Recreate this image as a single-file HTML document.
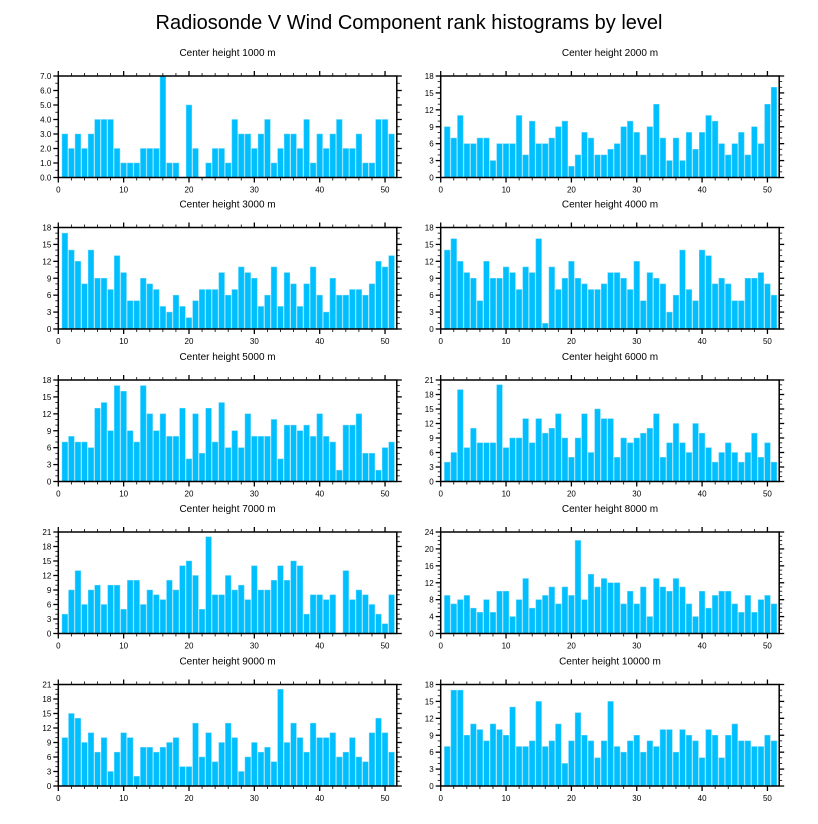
<!DOCTYPE html>
<html><head><meta charset="utf-8"><style>
body{margin:0;background:#fff;}
svg{display:block;font-family:"Liberation Sans",Arial,sans-serif;}
</style></head><body>
<svg id="chart" width="818" height="824" viewBox="0 0 818 824" xmlns="http://www.w3.org/2000/svg">
<text x="409" y="29" font-size="20" text-anchor="middle">Radiosonde V Wind Component rank histograms by level</text>
</svg>
<script>
const titles = ["Center height 1000 m","Center height 2000 m","Center height 3000 m","Center height 4000 m","Center height 5000 m","Center height 6000 m","Center height 7000 m","Center height 8000 m","Center height 9000 m","Center height 10000 m"];
const ymaxs = [7,18,18,18,18,21,21,24,21,18];
const ymajor = [1,3,3,3,3,3,3,4,3,3];
const yminor = [0.5,1,1,1,1,1,1,1,1,1];
const xTicks = [0,10,20,30,40,50];
const v1000 = [3,2,3,2,3,4,4,4,2,1,1,1,2,2,2,7,1,1,0,5,2,0,1,2,2,1,4,3,3,2,3,4,1,2,3,3,2,4,1,3,2,3,4,2,2,3,1,1,4,4,3];
const v2000 = [9,7,11,6,6,7,7,3,6,6,6,11,4,10,6,6,7,9,10,2,4,8,7,4,4,5,6,9,10,8,4,9,13,7,3,7,3,8,5,8,11,10,6,4,6,8,4,9,6,13,16];
const v3000 = [17,14,12,8,14,9,9,7,13,10,5,5,9,8,7,4,3,6,4,2,5,7,7,7,10,6,7,11,10,9,4,6,11,4,10,8,4,8,11,6,3,9,6,6,7,7,6,8,12,11,13];
const v4000 = [14,16,12,10,9,5,12,9,9,11,10,7,11,10,16,1,11,7,9,12,9,8,7,7,8,10,10,9,7,12,5,10,9,8,3,6,14,7,5,14,13,8,9,8,5,5,9,9,10,8,6];
const v5000 = [7,8,7,7,6,13,14,9,17,16,9,7,17,12,9,12,8,8,13,4,12,5,13,7,14,6,9,6,12,8,8,8,11,4,10,10,9,10,8,12,8,7,2,10,10,12,5,5,2,6,7];
const v6000 = [4,6,19,7,11,8,8,8,20,7,9,9,13,8,13,10,11,14,9,5,9,14,6,15,13,13,5,9,8,9,10,11,14,5,8,12,8,6,12,10,7,4,6,8,6,4,6,10,5,8,4];
const v7000 = [4,9,13,6,9,10,6,10,10,5,11,11,6,9,8,7,11,9,14,15,12,5,20,8,8,12,9,10,7,14,9,9,11,14,11,15,14,4,8,8,7,8,0,13,7,9,8,6,4,2,8];
const v8000 = [9,7,8,9,6,5,8,5,10,10,4,8,13,6,8,9,11,7,11,9,22,8,14,11,13,12,12,7,10,7,11,4,13,11,10,13,11,7,4,10,6,9,10,10,7,5,9,5,8,9,7];
const v9000 = [10,15,14,9,11,7,10,3,7,11,10,2,8,8,7,8,9,10,4,4,13,6,11,5,9,13,10,3,6,9,7,8,5,20,9,13,10,7,13,10,10,11,6,7,10,6,5,11,14,11,7];
const v10000 = [7,17,17,9,11,10,8,11,10,9,14,7,7,8,15,7,8,11,4,8,13,9,8,5,8,15,7,6,8,9,6,8,7,10,10,6,10,9,8,5,10,9,5,9,11,8,8,7,7,9,8];
const allValues = [v1000,v2000,v3000,v4000,v5000,v6000,v7000,v8000,v9000,v10000];

const NS = "http://www.w3.org/2000/svg";
const svg = document.getElementById('chart');
const XMAX = 51.8;
function mk(tag, attrs, parent){
  const e = document.createElementNS(NS, tag);
  for (const k in attrs) e.setAttribute(k, attrs[k]);
  parent.appendChild(e);
  return e;
}
const lefts = [58.3, 440.7];
const tops = [76, 227.5, 380, 532, 684.5];
const PW = 338.5, PH = 101.5;
for (let p = 0; p < 10; p++) {
  const col = p % 2, row = Math.floor(p / 2);
  const x0 = lefts[col], y0 = tops[row];
  const vals = allValues[p], ymax = ymaxs[p];
  const sx = v => x0 + v / XMAX * PW;
  const sy = v => y0 + PH - v / ymax * PH;
  const g = mk('g', {}, svg);
  
  
  const t = mk('text', {x: x0 + PW/2, y: y0 - 20, 'font-size': 10, 'text-anchor': 'middle'}, g);
  
  
  t.textContent = titles[p];
  const bw = 0.86 / XMAX * PW;
  vals.forEach((v, i) => {
    if (v <= 0) return;
    const b = mk('rect', {x: sx(i + 1) - bw/2, y: sy(v), width: bw, height: sy(0) - sy(v), fill: '#00bfff', stroke: '#5fd4ff', 'stroke-width': 0.5}, g);
    
    
  });
  // x ticks
  for (let m = 0; m <= 51; m += 2) {
    const major = m % 10 === 0, len = major ? 5 : 3;
    mk('line', {x1: sx(m), x2: sx(m), y1: y0 + PH, y2: y0 + PH + len, stroke: '#000', 'stroke-width': major ? 1.3 : 0.8}, g);
    mk('line', {x1: sx(m), x2: sx(m), y1: y0, y2: y0 - len, stroke: '#000', 'stroke-width': major ? 1.3 : 0.8}, g);
  }
  xTicks.forEach(tv => {
    const l = mk('text', {x: sx(tv), y: y0 + PH + 15, 'font-size': 8, 'text-anchor': 'middle'}, g);
    
    
    l.textContent = tv;
  });
  // y ticks
  const nMinor = Math.round(ymax / yminor[p]);
  for (let k = 0; k <= nMinor; k++) {
    const yv = k * yminor[p];
    const major = Math.abs(yv / ymajor[p] - Math.round(yv / ymajor[p])) < 1e-6, len = major ? 5 : 3;
    mk('line', {x1: x0, x2: x0 - len, y1: sy(yv), y2: sy(yv), stroke: '#000', 'stroke-width': major ? 1.3 : 0.8}, g);
    mk('line', {x1: x0 + PW, x2: x0 + PW + len, y1: sy(yv), y2: sy(yv), stroke: '#000', 'stroke-width': major ? 1.3 : 0.8}, g);
    if (major) {
      const l = mk('text', {x: x0 - 7, y: sy(yv) + 3, 'font-size': 8, 'text-anchor': 'end'}, g);
      
      
      l.textContent = p === 0 ? yv.toFixed(1) : yv;
    }
  }
  const fr = mk('rect', {x: x0, y: y0, width: PW, height: PH, fill: 'none', stroke: '#000', 'stroke-width': 1.5}, g);
  
  
}
</script>
</body></html>
